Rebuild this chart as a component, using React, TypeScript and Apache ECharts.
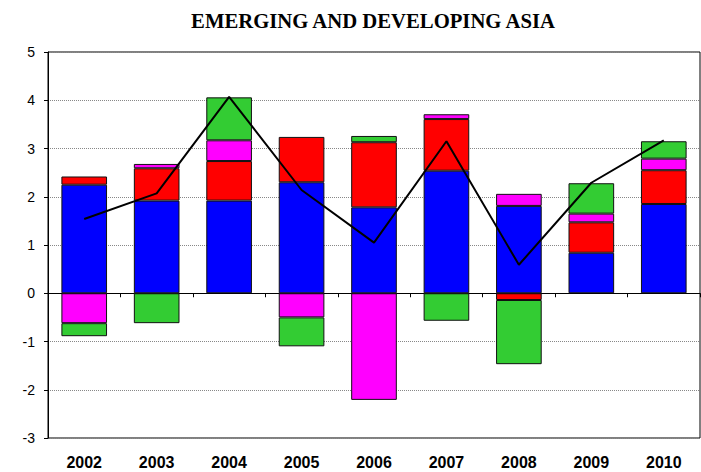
import React, { useEffect, useRef } from "react";
import * as echarts from "echarts";

const categories = ["2002", "2003", "2004", "2005", "2006", "2007", "2008", "2009", "2010"];
const blueValues = [2.25, 1.92, 1.92, 2.3, 1.78, 2.54, 1.81, 0.84, 1.85];
const redValues = [0.17, 0.67, 0.82, 0.94, 1.35, 1.07, -0.14, 0.63, 0.7];
const magentaValues = [-0.62, 0.09, 0.43, -0.5, -2.21, 0.1, 0.25, 0.18, 0.24];
const greenValues = [-0.27, -0.62, 0.89, -0.6, 0.13, -0.57, -1.33, 0.63, 0.36];
const totalValues = [1.54, 2.07, 4.07, 2.14, 1.05, 3.15, 0.59, 2.29, 3.17];
const titleText = "EMERGING AND DEVELOPING ASIA";

export default function App() {
  const ref = useRef<HTMLDivElement>(null);
  useEffect(() => {
    if (!ref.current) return;
    const chart = echarts.init(ref.current, null, { renderer: "svg" });
    const barSeries = (name: string, data: number[], color: string) => ({
      name,
      type: "bar",
      stack: "total",
      data,
      barWidth: "63%",
      itemStyle: { color, borderColor: "#111", borderWidth: 1 },
      xAxisIndex: 0,
      yAxisIndex: 0,
    });
    chart.setOption({
      animation: false,
      backgroundColor: "#fff",
      title: {
        text: titleText,
        left: 368,
        top: 5,
        textAlign: "center",
        textStyle: {
          fontFamily: "Liberation Serif",
          fontWeight: "bold",
          fontSize: 20.7,
          color: "#000",
        },
      },
      grid: {
        left: 48,
        right: 1,
        top: 52,
        bottom: 34,
        show: true,
        borderColor: "#000",
        borderWidth: 1,
        backgroundColor: "transparent",
      },
      xAxis: [
        {
          type: "category",
          data: categories,
          position: "bottom",
          axisLine: { show: false, onZero: false },
          axisTick: { show: false },
          axisLabel: {
            margin: 16,
            fontFamily: "Liberation Sans",
            fontWeight: "bold",
            fontSize: 16,
            color: "#000",
          },
        },
        {
          type: "category",
          data: categories,
          position: "top",
          axisLine: { show: true, onZero: true, lineStyle: { color: "#000", width: 1 } },
          axisTick: { show: true, inside: true, length: 4, lineStyle: { color: "#000" } },
          axisLabel: { show: false },
        },
      ],
      yAxis: {
        type: "value",
        min: -3,
        max: 5,
        interval: 1,
        axisLine: { show: true, lineStyle: { color: "#000", width: 1 } },
        axisTick: { show: true, length: 4, lineStyle: { color: "#000" } },
        axisLabel: {
          margin: 13,
          fontFamily: "Liberation Sans",
          fontSize: 14,
          color: "#000",
        },
        splitLine: { show: true, lineStyle: { color: "#888", type: "dotted", width: 1 } },
      },
      series: [
        barSeries("Blue", blueValues, "#0000ff"),
        barSeries("Red", redValues, "#ff0000"),
        barSeries("Magenta", magentaValues, "#ff00ff"),
        barSeries("Green", greenValues, "#33cc33"),
        {
          name: "Total",
          type: "line",
          data: totalValues,
          symbol: "none",
          lineStyle: { color: "#000", width: 2 },
          z: 10,
        },
      ],
    });
    return () => chart.dispose();
  }, []);
  return (
    <div
      ref={ref}
      style={{ position: "absolute", left: 0, top: 0, width: 701, height: 472 }}
    />
  );
}
